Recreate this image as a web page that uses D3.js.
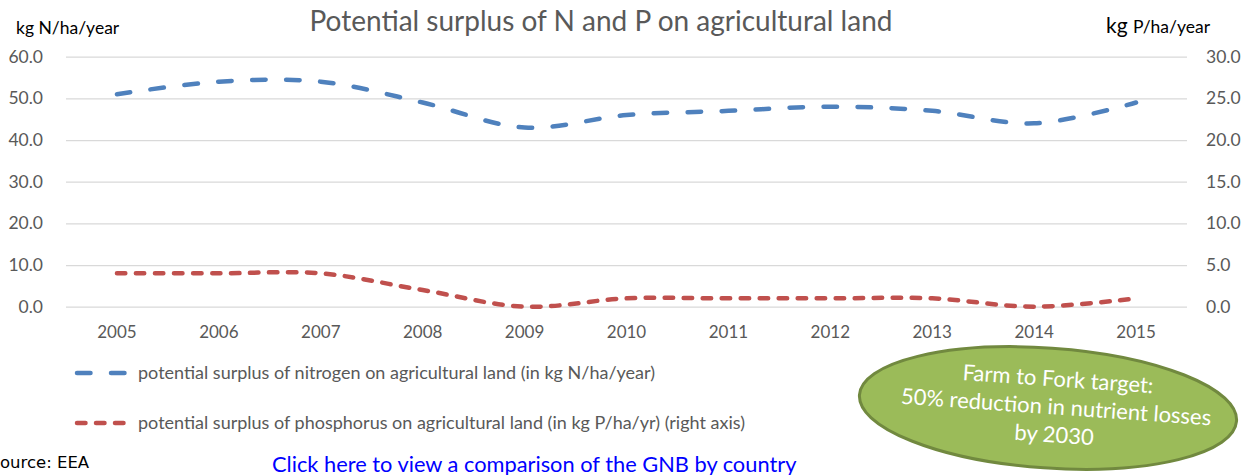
<!DOCTYPE html>
<html>
<head>
<meta charset="utf-8">
<script src="https://cdn.jsdelivr.net/npm/d3@7"></script>
<style>
  html, body { margin: 0; padding: 0; background: #fff; }
  svg { display: block; font-family: Lato, "Open Sans", sans-serif; }
</style>
</head>
<body>
<svg id="chart" width="1250" height="475"></svg>
<script>
// Potential nutrient surplus on agricultural land, EU, 2005-2015
const years = ["2005","2006","2007","2008","2009","2010","2011","2012","2013","2014","2015"];
const nitrogen = [51, 54, 54, 49, 43, 46, 47, 48, 47, 44, 49];          // kg N/ha/year (left axis)
const phosphorus = [4, 4, 4, 2, 0, 1, 1, 1, 1, 0, 1];                   // kg P/ha/year (right axis)
const leftTicks = [0, 10, 20, 30, 40, 50, 60];
const rightTicks = [0, 5, 10, 15, 20, 25, 30];

const svg = d3.select("#chart");
const plot = { left: 66, right: 1187, top: 56.7, bottom: 306.7 };

const x = d3.scaleBand().domain(years).range([plot.left, plot.right]);
const cx = d => x(d) + x.bandwidth() / 2;
const yL = d3.scaleLinear().domain([0, 60]).range([plot.bottom, plot.top]);
const yR = d3.scaleLinear().domain([0, 30]).range([plot.bottom, plot.top]);

const grey = "#595959";

// gridlines
svg.append("g")
  .attr("transform", `translate(${plot.left},0)`)
  .call(d3.axisLeft(yL).tickValues(leftTicks).tickSize(-(plot.right - plot.left)).tickFormat(""))
  .call(g => g.select(".domain").remove())
  .call(g => g.selectAll("line").attr("stroke", "#d9d9d9").attr("stroke-width", 1.3));

// left axis labels
svg.append("g")
  .attr("transform", `translate(${plot.left},0)`)
  .call(d3.axisLeft(yL).tickValues(leftTicks).tickSize(0).tickPadding(23).tickFormat(d3.format(".1f")))
  .call(g => g.select(".domain").remove())
  .call(g => g.selectAll("text").attr("fill", grey).style("font-size", "17.5px").style("font-family", "Lato, sans-serif"));

// right axis labels
svg.append("g")
  .attr("transform", `translate(${plot.right},0)`)
  .call(d3.axisRight(yR).tickValues(rightTicks).tickSize(0).tickPadding(19).tickFormat(d3.format(".1f")))
  .call(g => g.select(".domain").remove())
  .call(g => g.selectAll("text").attr("fill", grey).style("font-size", "17.5px").style("font-family", "Lato, sans-serif"));

// year labels
svg.append("g")
  .attr("transform", `translate(0,${plot.bottom})`)
  .call(d3.axisBottom(x).tickSize(0).tickPadding(19))
  .call(g => g.select(".domain").remove())
  .call(g => g.selectAll("text").attr("fill", grey).style("font-size", "17px").style("font-family", "Lato, sans-serif"));

// series
const curve = d3.curveCardinal.tension(0);
const lineN = d3.line().x((d, i) => cx(years[i])).y(d => yL(d)).curve(curve);
const lineP = d3.line().x((d, i) => cx(years[i])).y(d => yR(d)).curve(curve);

const blue = "#4f81bd", red = "#c0504d";
const blueDash = "13.5,20.5", redDash = "8.5,10.5";

svg.append("path").datum(nitrogen).attr("d", lineN)
  .attr("fill", "none").attr("stroke", blue).attr("stroke-width", 4.5)
  .attr("stroke-linecap", "round").attr("stroke-dasharray", blueDash);
svg.append("path").datum(phosphorus).attr("d", lineP)
  .attr("fill", "none").attr("stroke", red).attr("stroke-width", 4.5)
  .attr("stroke-linecap", "round").attr("stroke-dasharray", redDash);

// title and axis titles
svg.append("text").attr("x", 601).attr("y", 31).attr("text-anchor", "middle")
  .attr("fill", grey).style("font-size", "28px").text("Potential surplus of N and P on agricultural land");
svg.append("text").attr("x", 16).attr("y", 34).attr("fill", "#000")
  .style("font-size", "17.5px").text("kg N/ha/year");
const rt = svg.append("text").attr("x", 1106).attr("y", 33).attr("fill", "#000");
rt.append("tspan").style("font-size", "21px").text("kg ");
rt.append("tspan").style("font-size", "17.5px").text("P/ha/year");

// legend
const legend = [
  { label: "potential surplus of nitrogen on agricultural land (in kg N/ha/year)", color: blue, dash: blueDash, y: 373, x2: 124.5 },
  { label: "potential surplus of phosphorus on agricultural land (in kg P/ha/yr) (right axis)", color: red, dash: redDash, y: 423, x2: 123.5 }
];
const lg = svg.append("g").selectAll("g").data(legend).join("g");
lg.append("line").attr("x1", 77).attr("x2", d => d.x2).attr("y1", d => d.y).attr("y2", d => d.y)
  .attr("stroke", d => d.color).attr("stroke-width", 4.5).attr("stroke-linecap", "round")
  .attr("stroke-dasharray", d => d.dash);
lg.append("text").attr("x", 138).attr("y", d => d.y + 6).attr("fill", grey)
  .style("font-size", "18px").text(d => d.label);

// source and link
svg.append("text").attr("x", -10.5).attr("y", 468).attr("fill", "#000")
  .style("font-family", "'DejaVu Sans', sans-serif").style("font-size", "16.5px").text("Source: EEA");
svg.append("text").attr("x", 272).attr("y", 472).attr("fill", "#0000ff")
  .style("font-size", "21.8px").text("Click here to view a comparison of the GNB by country");

// target callout
const call = svg.append("g").attr("transform", "translate(1048,408) rotate(4)");
call.append("ellipse").attr("rx", 189).attr("ry", 60)
  .attr("fill", "#9bbb59").attr("stroke", "#71893f").attr("stroke-width", 3);
const callLines = ["Farm to Fork target:", "50% reduction in nutrient losses", "by 2030"];
call.selectAll("text.c").data(callLines).join("text").attr("class", "c")
  .attr("x", 8).attr("y", (d, i) => -22 + i * 28).attr("text-anchor", "middle")
  .attr("fill", "#fff").style("font-size", "22px").text(d => d);
</script>
</body>
</html>
